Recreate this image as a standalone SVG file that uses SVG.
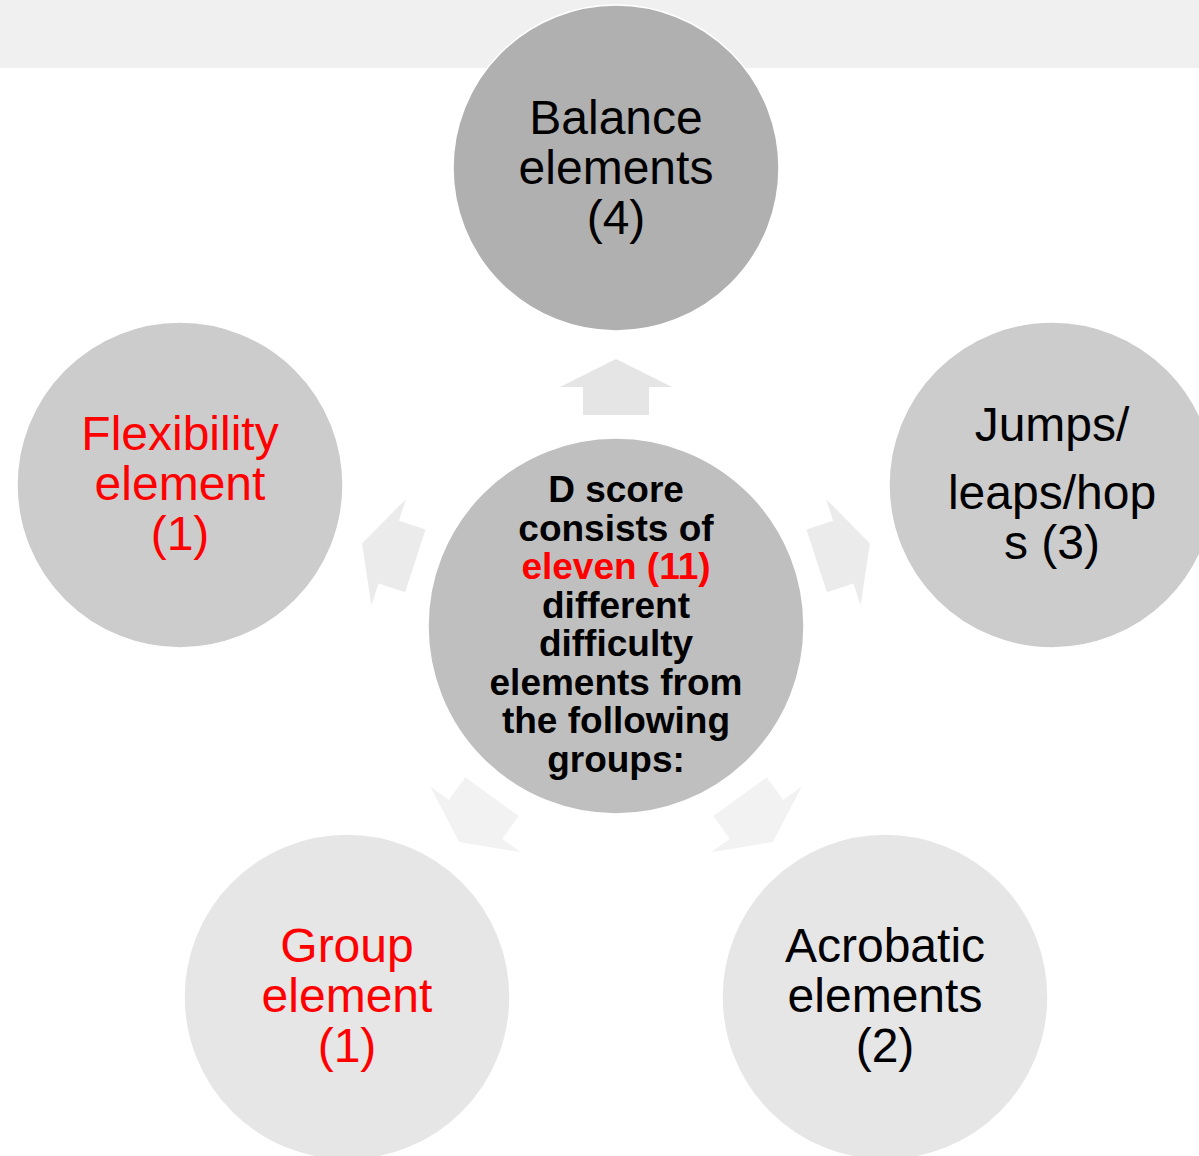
<svg xmlns="http://www.w3.org/2000/svg" width="1199" height="1156" viewBox="0 0 1199 1156">
  <style>
    .node { stroke: #ffffff; stroke-width: 1.5; }
    .lbl { font-family: "Liberation Sans", Arial, sans-serif; font-size: 48px; text-anchor: middle; fill: #000000; }
    .hub { font-family: "Liberation Sans", Arial, sans-serif; font-size: 37px; font-weight: bold; text-anchor: middle; fill: #000000; }
    .red { fill: #ff0000; }
  </style>
  <defs>
    <!-- block arrow pointing up from the hub, rotated into place for each spoke -->
    <path id="spoke" d="M616,359 L672,387 L649,387 L649,415 L583,415 L583,387 L560,387 Z"/>
  </defs>

  <!-- header band -->
  <rect x="0" y="0" width="1199" height="68" fill="#f0f0f0"/>

  <g id="connectors">
    <use href="#spoke" fill="#e5e5e5"/>
    <use href="#spoke" fill="#ebebeb" transform="rotate(72 616 626)"/>
    <use href="#spoke" fill="#f2f2f2" transform="rotate(144 616 626)"/>
    <use href="#spoke" fill="#f2f2f2" transform="rotate(216 616 626)"/>
    <use href="#spoke" fill="#ebebeb" transform="rotate(288 616 626)"/>
  </g>

  <g id="hub">
    <circle class="node" cx="616" cy="626" r="188" fill="#bfbfbf"/>
    <text class="hub" x="616" y="502">D score</text>
    <text class="hub" x="616" y="541">consists of</text>
    <text class="hub red" x="616" y="579">eleven (11)</text>
    <text class="hub" x="616" y="618">different</text>
    <text class="hub" x="616" y="656">difficulty</text>
    <text class="hub" x="616" y="695">elements from</text>
    <text class="hub" x="616" y="733">the following</text>
    <text class="hub" x="616" y="772">groups:</text>
  </g>

  <g id="balance">
    <circle class="node" cx="616" cy="168" r="163" fill="#b0b0b0"/>
    <text class="lbl" x="616" y="134">Balance</text>
    <text class="lbl" x="616" y="184">elements</text>
    <text class="lbl" x="616" y="234">(4)</text>
  </g>

  <g id="jumps">
    <circle class="node" cx="1052" cy="485" r="163" fill="#cccccc"/>
    <text class="lbl" x="1052" y="441">Jumps/</text>
    <text class="lbl" x="1052" y="509">leaps/hop</text>
    <text class="lbl" x="1052" y="559">s (3)</text>
  </g>

  <g id="acrobatic">
    <circle class="node" cx="885" cy="997" r="163" fill="#e6e6e6"/>
    <text class="lbl" x="885" y="962">Acrobatic</text>
    <text class="lbl" x="885" y="1012">elements</text>
    <text class="lbl" x="885" y="1062">(2)</text>
  </g>

  <g id="group-element">
    <circle class="node" cx="347" cy="997" r="163" fill="#e6e6e6"/>
    <text class="lbl red" x="347" y="962">Group</text>
    <text class="lbl red" x="347" y="1012">element</text>
    <text class="lbl red" x="347" y="1062">(1)</text>
  </g>

  <g id="flexibility">
    <circle class="node" cx="180" cy="485" r="163" fill="#cccccc"/>
    <text class="lbl red" x="180" y="450">Flexibility</text>
    <text class="lbl red" x="180" y="500">element</text>
    <text class="lbl red" x="180" y="550">(1)</text>
  </g>
</svg>
